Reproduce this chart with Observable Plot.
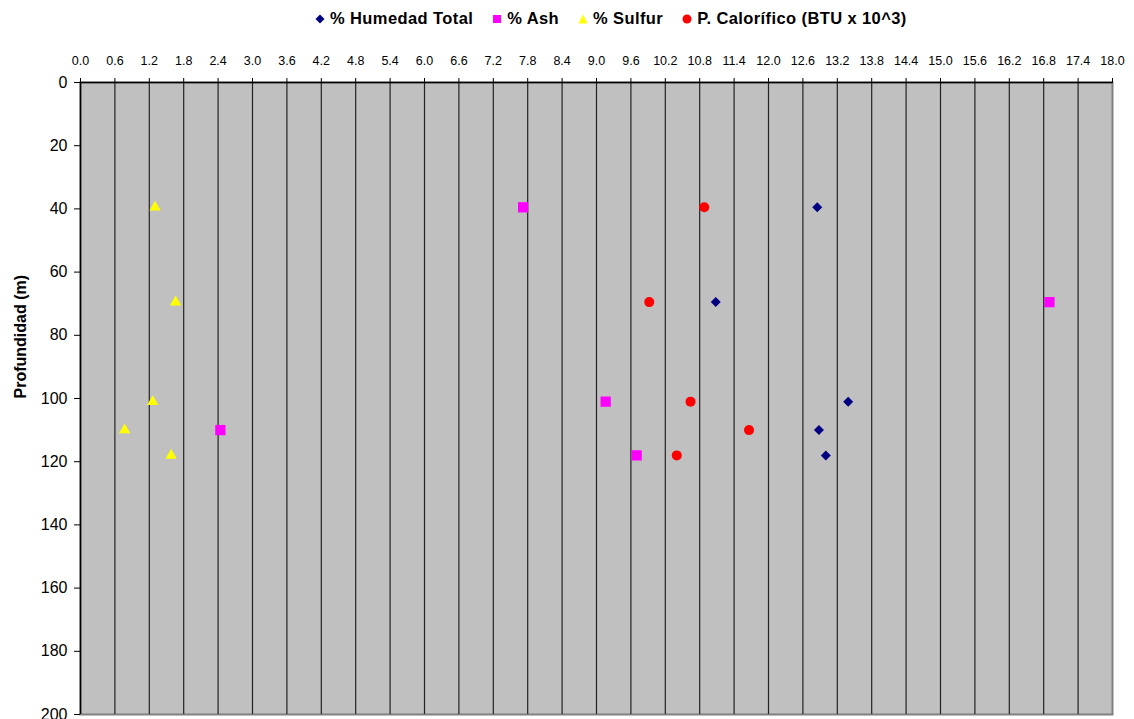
<!DOCTYPE html>
<html>
<head>
<meta charset="utf-8">
<script src="https://cdn.jsdelivr.net/npm/d3@7"></script>
<script src="https://cdn.jsdelivr.net/npm/@observablehq/plot@0.6"></script>
<style>
  body { margin: 0; background: #fff; font-family: "Liberation Sans", Arial, sans-serif; }
  #legend { position: relative; height: 36px; width: 1134px; }
  #legend .items { position: absolute; left: 315px; top: 9px; display: flex; align-items: center; font-weight: bold; font-size: 16.5px; letter-spacing: 0.4px; color: #000; white-space: nowrap; }
  #legend .item { display: flex; align-items: center; margin-right: 19px; }
  #legend svg { margin-right: 5px; }
</style>
</head>
<body>
<div id="legend"></div>
<div id="chart"></div>
<script>
// Data
const depth      = [39.5, 69.5, 101, 110, 118];
const humedad    = [12.85, 11.08, 13.39, 12.88, 13.0];
const ash        = [7.72, 16.90, 9.16, 2.44, 9.70];
const sulfur     = [1.30, 1.66, 1.26, 0.77, 1.58];
const calorifico = [10.88, 9.92, 10.64, 11.66, 10.40];

const seriesNames = ["% Humedad Total", "% Ash", "% Sulfur", "P. Calorífico (BTU x 10^3)"];
const seriesColors = ["#000080", "#FF00FF", "#FFFF00", "#FF0000"];
const seriesSymbols = ["diamond2", "square", "triangle", "circle"];
const seriesR = [4.5, 5.8, 4.2, 5];
const seriesValues = [humedad, ash, sulfur, calorifico];

const xTicks = d3.range(0, 31).map(i => +(i * 0.6).toFixed(1));
const yTicks = d3.range(0, 201, 20);

const rows = [];
seriesNames.forEach((name, s) => {
  seriesValues[s].forEach((v, i) => rows.push({series: name, x: v, y: depth[i], s}));
});

// Legend (HTML)
const legendItems = document.createElement("div");
legendItems.className = "items";
const sym = {
  "diamond2": '<polygon points="5,0.5 9.5,5 5,9.5 0.5,5"/>',
  "square": '<rect x="1" y="1" width="8" height="8"/>',
  "triangle": '<polygon points="5,0.5 9.5,9.5 0.5,9.5"/>',
  "circle": '<circle cx="5" cy="5" r="4.5"/>'
};
seriesNames.forEach((name, s) => {
  const it = document.createElement("div");
  it.className = "item";
  it.innerHTML = `<svg width="10" height="10" viewBox="0 0 10 10"><g fill="${seriesColors[s]}">${sym[seriesSymbols[s]]}</g></svg><span>${name}</span>`;
  legendItems.appendChild(it);
});
document.getElementById("legend").appendChild(legendItems);

const marks = [
  Plot.frame({fill: "#C0C0C0", stroke: "#808080", strokeWidth: 2}),
  Plot.ruleX(xTicks.filter(d => d > 0 && d < 18), {stroke: "#222", strokeWidth: 1.2}),
  Plot.ruleX([0], {stroke: "#000", strokeWidth: 1.5}),
  Plot.ruleY([0], {stroke: "#000", strokeWidth: 1.5}),
  Plot.axisX({anchor: "top", ticks: xTicks, tickFormat: d => d.toFixed(1), tickSize: 5, tickPadding: 13, fontSize: 12.5, label: null}),
  Plot.axisY({anchor: "left", ticks: yTicks, tickFormat: d => String(d), tickSize: 6, tickPadding: 7, fontSize: 16, label: null}),
  Plot.text(["Profundidad (m)"], {frameAnchor: "left", dx: -60, rotate: -90, fontWeight: "bold", fontSize: 16})
];
seriesNames.forEach((name, s) => {
  marks.push(Plot.dot(rows.filter(r => r.s === s), {
    x: "x", y: "y", symbol: () => seriesSymbols[s], r: seriesR[s],
    fill: seriesColors[s], stroke: "none"
  }));
});

const chart = Plot.plot({
  width: 1134,
  height: 683,
  marginTop: 46,
  marginBottom: 5,
  marginLeft: 80,
  marginRight: 22,
  style: {fontFamily: "'Liberation Sans', Arial, sans-serif", color: "#000", background: "#fff", overflow: "visible"},
  x: {domain: [0, 18], axis: null},
  y: {domain: [0, 200], reverse: true, axis: null},
  symbol: {type: "identity"},
  marks
});
document.getElementById("chart").appendChild(chart);
</script>
</body>
</html>
